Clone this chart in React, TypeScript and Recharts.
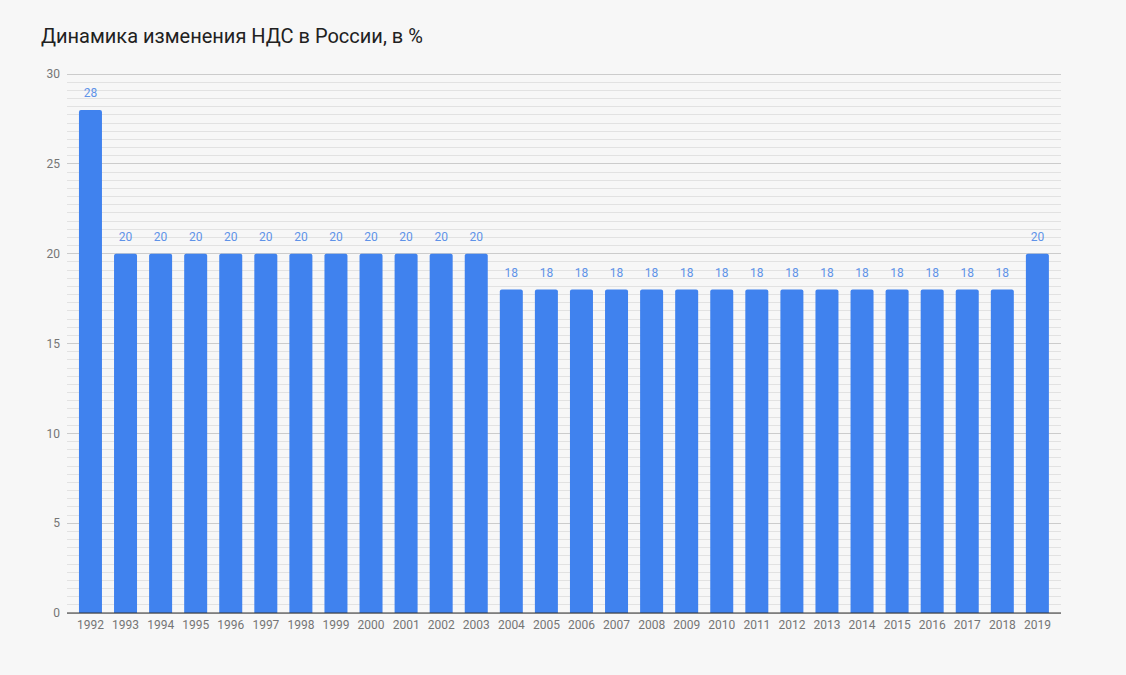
import React from "react";
import { BarChart, Bar, XAxis, YAxis, CartesianGrid, LabelList, ReferenceLine } from "recharts";

const years = [
  "1992", "1993", "1994", "1995", "1996", "1997", "1998", "1999", "2000", "2001",
  "2002", "2003", "2004", "2005", "2006", "2007", "2008", "2009", "2010", "2011",
  "2012", "2013", "2014", "2015", "2016", "2017", "2018", "2019",
];
const vatRates = [
  28, 20, 20, 20, 20, 20, 20, 20, 20, 20,
  20, 20, 18, 18, 18, 18, 18, 18, 18, 18,
  18, 18, 18, 18, 18, 18, 18, 20,
];
const yTicks = [0, 5, 10, 15, 20, 25, 30];

const data = years.map((year, i) => ({ year, rate: vatRates[i] }));

// 10 minor lines between each pair of major ticks
const minorLines: number[] = [];
for (let i = 0; i < yTicks.length - 1; i++) {
  for (let k = 1; k <= 10; k++) {
    minorLines.push(yTicks[i] + ((yTicks[i + 1] - yTicks[i]) * k) / 11);
  }
}

const FONT = "Roboto, 'Noto Sans', sans-serif";

export default function App() {
  return (
    <div
      style={{
        position: "absolute",
        left: 0,
        top: 0,
        width: 1126,
        height: 675,
        background: "#f7f7f7",
        fontFamily: FONT,
      }}
    >
      <div
        style={{
          position: "absolute",
          left: 41,
          top: 24,
          fontSize: 20,
          color: "#212121",
          fontFamily: FONT,
        }}
      >
        Динамика изменения НДС в России, в %
      </div>
      <BarChart
        width={1126}
        height={675}
        data={data}
        margin={{ top: 74, right: 65, left: 0, bottom: 32 }}
        barCategoryGap="17%"
      >
        {minorLines.map((v) => (
          <ReferenceLine
            key={v}
            y={v}
            stroke="#e2e2e2"
            strokeWidth={1}
            shapeRendering="crispEdges"
            zIndex={-50}
          />
        ))}
        <CartesianGrid
          vertical={false}
          horizontalValues={yTicks}
          stroke="#cccccc"
          shapeRendering="crispEdges"
        />
        <XAxis
          dataKey="year"
          interval={0}
          padding={{ left: 6, right: 6 }}
          tickSize={0}
          tickMargin={7}
          axisLine={{ stroke: "#333333" }}
          tick={{ fontSize: 12, fill: "#757575", fontFamily: FONT }}
          height={30}
        />
        <YAxis
          domain={[0, 30]}
          ticks={yTicks}
          width={67}
          tickSize={0}
          tickMargin={7}
          axisLine={false}
          tick={{ fontSize: 12, fill: "#757575", fontFamily: FONT }}
        />
        <Bar dataKey="rate" fill="#4082ee" radius={[2, 2, 0, 0]} isAnimationActive={false}>
          <LabelList
            dataKey="rate"
            position="top"
            offset={13}
            style={{ fontSize: 12, fill: "#5f93e8", fontFamily: FONT }}
          />
        </Bar>
      </BarChart>
    </div>
  );
}
